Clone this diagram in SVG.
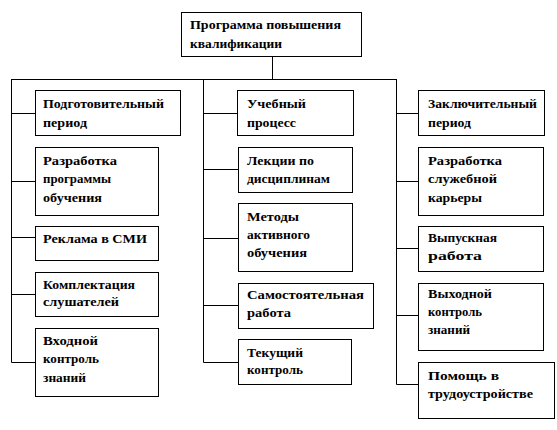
<svg xmlns="http://www.w3.org/2000/svg" width="557" height="430" viewBox="0 0 557 430">
<style>
.b{fill:#fff;stroke:#000;stroke-width:1}
.c{fill:none;stroke:#000;stroke-width:1}
text{font-family:'Liberation Serif','DejaVu Serif',serif;font-weight:700;font-size:13px;fill:#000}
</style>
<rect width="557" height="430" fill="#fff"/>
<g id="connectors">
<path class="c" d="M272.5,56 V79.5 M11.5,79.5 H396.5 M11.5,79 V362.5 M203.5,79 V362.5 M396.5,79 V384.5"/>
<path class="c" d="M11.5,113.5 H35 M11.5,181.5 H35 M11.5,237.5 H35 M11.5,294.5 H35 M11.5,362.5 H35"/>
<path class="c" d="M203.5,113.5 H237 M203.5,169.5 H238 M203.5,238.5 H238 M203.5,305.5 H238 M203.5,362.5 H238"/>
<path class="c" d="M396.5,113.5 H418 M396.5,181.5 H418 M396.5,248.5 H418 M396.5,315.5 H418 M396.5,384.5 H418"/>
</g>
<g id="root"><rect class="b" x="181.5" y="12.5" width="180" height="44"/>
<text x="190" y="29" textLength="151" lengthAdjust="spacingAndGlyphs">Программа повышения</text>
<text x="190" y="48" textLength="92" lengthAdjust="spacingAndGlyphs">квалификации</text></g>

<g id="l1"><rect class="b" x="35.5" y="90.5" width="145" height="45"/>
<text x="43" y="108" textLength="121" lengthAdjust="spacingAndGlyphs">Подготовительный</text>
<text x="43" y="127" textLength="44" lengthAdjust="spacingAndGlyphs">период</text></g>
<g id="l2"><rect class="b" x="35.5" y="147.5" width="123" height="68"/>
<text x="43" y="165" textLength="74" lengthAdjust="spacingAndGlyphs">Разработка</text>
<text x="43" y="183" textLength="68" lengthAdjust="spacingAndGlyphs">программы</text>
<text x="43" y="202" textLength="59" lengthAdjust="spacingAndGlyphs">обучения</text></g>
<g id="l3"><rect class="b" x="35.5" y="226.5" width="123" height="34"/>
<text x="43" y="243" textLength="104" lengthAdjust="spacingAndGlyphs">Реклама в СМИ</text></g>
<g id="l4"><rect class="b" x="35.5" y="272.5" width="123" height="44"/>
<text x="43" y="289" textLength="92" lengthAdjust="spacingAndGlyphs">Комплектация</text>
<text x="43" y="306" textLength="76" lengthAdjust="spacingAndGlyphs">слушателей</text></g>
<g id="l5"><rect class="b" x="35.5" y="328.5" width="123" height="68"/>
<text x="43" y="345" textLength="55" lengthAdjust="spacingAndGlyphs">Входной</text>
<text x="43" y="363" textLength="56" lengthAdjust="spacingAndGlyphs">контроль</text>
<text x="43" y="382" textLength="43" lengthAdjust="spacingAndGlyphs">знаний</text></g>

<g id="m1"><rect class="b" x="237.5" y="90.5" width="116" height="45"/>
<text x="247" y="108" textLength="59" lengthAdjust="spacingAndGlyphs">Учебный</text>
<text x="247" y="127" textLength="49" lengthAdjust="spacingAndGlyphs">процесс</text></g>
<g id="m2"><rect class="b" x="238.5" y="147.5" width="114" height="45"/>
<text x="247" y="165" textLength="67" lengthAdjust="spacingAndGlyphs">Лекции  по</text>
<text x="247" y="183" textLength="83" lengthAdjust="spacingAndGlyphs">дисциплинам</text></g>
<g id="m3"><rect class="b" x="238.5" y="203.5" width="114" height="68"/>
<text x="247" y="221" textLength="52" lengthAdjust="spacingAndGlyphs">Методы</text>
<text x="247" y="239" textLength="63" lengthAdjust="spacingAndGlyphs">активного</text>
<text x="247" y="257" textLength="60" lengthAdjust="spacingAndGlyphs">обучения</text></g>
<g id="m4"><rect class="b" x="238.5" y="283.5" width="135" height="45"/>
<text x="247" y="299" textLength="117" lengthAdjust="spacingAndGlyphs">Самостоятельная</text>
<text x="247" y="317" textLength="44" lengthAdjust="spacingAndGlyphs">работа</text></g>
<g id="m5"><rect class="b" x="238.5" y="339.5" width="113" height="45"/>
<text x="247" y="357" textLength="56" lengthAdjust="spacingAndGlyphs">Текущий</text>
<text x="247" y="374" textLength="56" lengthAdjust="spacingAndGlyphs">контроль</text></g>

<g id="r1"><rect class="b" x="418.5" y="90.5" width="126" height="45"/>
<text x="428" y="108" textLength="109" lengthAdjust="spacingAndGlyphs">Заключительный</text>
<text x="428" y="127" textLength="43" lengthAdjust="spacingAndGlyphs">период</text></g>
<g id="r2"><rect class="b" x="418.5" y="147.5" width="125" height="68"/>
<text x="428" y="165" textLength="74" lengthAdjust="spacingAndGlyphs">Разработка</text>
<text x="428" y="183" textLength="69" lengthAdjust="spacingAndGlyphs">служебной</text>
<text x="428" y="202" textLength="54" lengthAdjust="spacingAndGlyphs">карьеры</text></g>
<g id="r3"><rect class="b" x="418.5" y="226.5" width="125" height="45"/>
<text x="428" y="242" textLength="69" lengthAdjust="spacingAndGlyphs">Выпускная</text>
<text x="428" y="260" textLength="54" lengthAdjust="spacingAndGlyphs">работа</text></g>
<g id="r4"><rect class="b" x="418.5" y="283.5" width="125" height="67"/>
<text x="428" y="298" textLength="64" lengthAdjust="spacingAndGlyphs">Выходной</text>
<text x="428" y="316" textLength="54" lengthAdjust="spacingAndGlyphs">контроль</text>
<text x="428" y="334" textLength="42" lengthAdjust="spacingAndGlyphs">знаний</text></g>
<g id="r5"><rect class="b" x="418.5" y="362.5" width="136" height="56"/>
<text x="428" y="380" textLength="71" lengthAdjust="spacingAndGlyphs">Помощь в</text>
<text x="428" y="398" textLength="105" lengthAdjust="spacingAndGlyphs">трудоустройстве</text></g>
</svg>
